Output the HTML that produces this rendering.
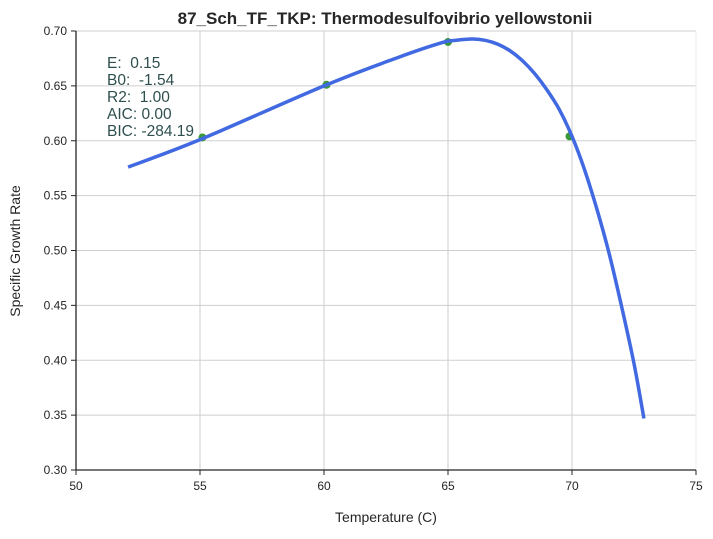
<!DOCTYPE html>
<html><head><meta charset="utf-8"><style>
body{margin:0;background:#fff;}
svg text{font-family:"Liberation Sans",sans-serif;}
.pre{white-space:pre;}
</style></head><body>
<svg id="chart" width="713" height="534" xmlns="http://www.w3.org/2000/svg">
<g id="grid"></g>
<g id="axes"></g>
<g id="marks"></g>
<text x="385" y="24" text-anchor="middle" font-size="17" font-weight="bold" fill="#262626">87_Sch_TF_TKP: Thermodesulfovibrio yellowstonii</text>
<text x="386" y="522" text-anchor="middle" font-size="14" fill="#262626">Temperature (C)</text>
<text transform="translate(20,251) rotate(-90)" text-anchor="middle" font-size="14" fill="#262626">Specific Growth Rate</text>
<g font-size="15.5" fill="#2f4f4f">
<text class="pre" x="107" y="68">E:  0.15</text>
<text class="pre" x="107" y="85">B0:  -1.54</text>
<text class="pre" x="107" y="102">R2:  1.00</text>
<text class="pre" x="107" y="119">AIC: 0.00</text>
<text class="pre" x="107" y="136">BIC: -284.19</text>
</g>
</svg>
<script>
const xTicks=[50,55,60,65,70,75];
const yTicks=[0.30,0.35,0.40,0.45,0.50,0.55,0.60,0.65,0.70];
const obsTemp=[55.1,60.1,65.0,69.9];
const obsRate=[0.603,0.651,0.690,0.604];
const fitTemp=[52.1,55,60,63,64.7,65.3,66.0,66.5,67.0,67.5,68.0,68.5,69.0,69.5,70.0,70.5,71.0,71.5,72.0,72.5,72.9];
const fitRate=[0.576,0.601,0.650,0.676,0.689,0.6915,0.6927,0.6915,0.688,0.682,0.673,0.661,0.646,0.628,0.604,0.574,0.538,0.497,0.449,0.397,0.347];
const X0=76,X1=696,Y0=470,Y1=31;
const sx=v=>X0+(v-50)/(75-50)*(X1-X0);
const sy=v=>Y0-(v-0.3)/(0.7-0.3)*(Y0-Y1);
const NS="http://www.w3.org/2000/svg";
function mk(p,t,a){const e=document.createElementNS(NS,t);for(const k in a)e.setAttribute(k,a[k]);p.appendChild(e);return e;}
const grid=document.getElementById('grid'),axes=document.getElementById('axes'),marks=document.getElementById('marks');
xTicks.forEach(t=>{
 const l=mk(grid,'line',{x1:sx(t),x2:sx(t),y1:Y1,y2:Y0,stroke:'#cfcfcf','stroke-width':1});
 
 
 const tk=mk(axes,'line',{x1:sx(t),x2:sx(t),y1:Y0,y2:Y0+5,stroke:'#262626'});
 
 
 const tx=mk(axes,'text',{x:sx(t),y:Y0+20,'text-anchor':'middle','font-size':12,fill:'#262626'});
 tx.textContent=t;
 
 
});
yTicks.forEach(t=>{
 const l=mk(grid,'line',{x1:X0,x2:X1,y1:sy(t),y2:sy(t),stroke:'#cfcfcf','stroke-width':1});
 
 
 const tk=mk(axes,'line',{x1:X0-5,x2:X0,y1:sy(t),y2:sy(t),stroke:'#262626'});
 
 
 const tx=mk(axes,'text',{x:X0-9,y:sy(t)+4,'text-anchor':'end','font-size':12,fill:'#262626'});
 tx.textContent=t.toFixed(2);
 
 
});
const rb=mk(axes,'line',{x1:X1,x2:X1,y1:Y1,y2:Y0,stroke:'#eeeeee'});


const ya=mk(axes,'line',{x1:X0,x2:X0,y1:Y1,y2:Y0,stroke:'#262626','stroke-width':1.3});


const xa=mk(axes,'line',{x1:X0,x2:X1,y1:Y0,y2:Y0,stroke:'#262626','stroke-width':1.3});


obsTemp.forEach((t,i)=>{
 const c=mk(marks,'circle',{cx:sx(t),cy:sy(obsRate[i]),r:4,fill:'#3a9a3a'});
 
 
});
const P=fitTemp.map((t,i)=>[sx(t),sy(fitRate[i])]);
let d='M'+P[0][0]+','+P[0][1];
for(let i=0;i<P.length-1;i++){
 const p0=P[Math.max(i-1,0)],p1=P[i],p2=P[i+1],p3=P[Math.min(i+2,P.length-1)];
 d+=` C${p1[0]+(p2[0]-p0[0])/6},${p1[1]+(p2[1]-p0[1])/6} ${p2[0]-(p3[0]-p1[0])/6},${p2[1]-(p3[1]-p1[1])/6} ${p2[0]},${p2[1]}`;
}
const fit=mk(marks,'path',{d:d,fill:'none',stroke:'#4169e1','stroke-width':3.5});


</script>
</body></html>
